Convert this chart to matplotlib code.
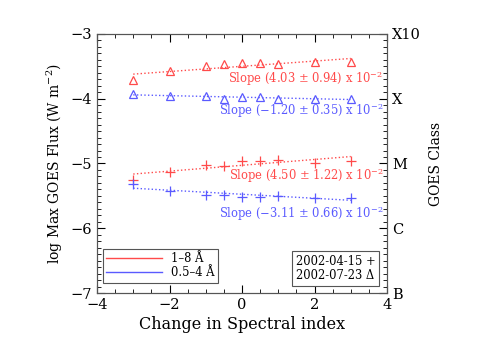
import numpy as np
import matplotlib.pyplot as plt
from matplotlib.lines import Line2D

plt.rcParams['font.family'] = ['DejaVu Serif']
plt.rcParams['mathtext.fontset'] = 'dejavuserif'

# change in spectral index
dx = [-3, -2, -1, -0.5, 0, 0.5, 1, 2, 3]

# 2002-07-23 (triangles)
tri_18 = [-3.71, -3.57, -3.50, -3.47, -3.45, -3.45, -3.46, -3.43, -3.43]
tri_054 = [-3.93, -3.96, -3.96, -4.00, -3.97, -3.97, -4.00, -4.00, -4.00]
# 2002-04-15 (plus)
plus_18 = [-5.26, -5.13, -5.02, -5.04, -4.96, -4.96, -4.94, -5.00, -4.96]
plus_054 = [-5.32, -5.42, -5.48, -5.48, -5.51, -5.51, -5.50, -5.53, -5.54]

# fits: slope, error, value at dx=0
slopes = [4.03e-2, -1.20e-2, 4.50e-2, -3.11e-2]
slope_err = [0.94e-2, 0.35e-2, 1.22e-2, 0.66e-2]
offsets = [-3.50, -3.977, -5.028, -5.475]

red = '#ff4a4a'
blue = '#5a5aff'

fig = plt.figure(figsize=(4.85, 3.46), dpi=100)
ax = fig.add_axes([0.2, 0.153, 0.598, 0.749])

series = [(tri_18, red, '^'), (tri_054, blue, '^'), (plus_18, red, '+'), (plus_054, blue, '+')]
text_y = [-3.69, -4.19, -5.19, -5.78]
xs = np.array([dx[0], dx[-1]])
for i, (vals, col, mk) in enumerate(series):
    if mk == '^':
        ax.plot(dx, vals, ls='none', marker='^', ms=5.5, mfc='none', mec=col, mew=0.9)
    else:
        ax.plot(dx, vals, ls='none', marker='+', ms=7, mec=col, mew=0.9)
    ax.plot(xs, offsets[i] + slopes[i] * xs, ls=':', color=col, lw=1)
    s = ('%.2f' % (slopes[i] * 100)).replace('-', '\u2212')
    ax.text(3.9, text_y[i],
            'Slope (%s $\\pm$ %.2f) x 10$^{\u22122}$' % (s, slope_err[i] * 100),
            color=col, fontsize=8.3, ha='right', va='center')

ax.set_xlim(-4, 4)
ax.set_ylim(-7, -3)
ax.set_xticks([-4, -2, 0, 2, 4])
ax.set_xticks(np.arange(-4, 4.01, 0.5), minor=True)
ax.set_yticks([-7, -6, -5, -4, -3])
ax.set_yticks(np.arange(-7, -2.99, 0.1), minor=True)
ax.set_xticklabels(['\u22124', '\u22122', '0', '2', '4'])
ax.set_yticklabels(['\u22127', '\u22126', '\u22125', '\u22124', '\u22123'])
ax.tick_params(direction='in', which='both', labelsize=10.5, top=True)
ax.tick_params(which='major', length=6)
ax.tick_params(which='minor', length=3)
ax.set_xlabel('Change in Spectral index', fontsize=11.5, labelpad=3)
ax.set_ylabel('log Max GOES Flux (W m$^{\u22122}$)', fontsize=10)

ax2 = ax.twinx()
ax2.set_ylim(-7, -3)
ax2.set_yticks([-7, -6, -5, -4, -3])
ax2.set_yticklabels(['B', 'C', 'M', 'X', 'X10'])
ax2.set_yticks(np.arange(-7, -2.99, 0.1), minor=True)
ax2.tick_params(direction='in', which='both', labelsize=10.5)
ax2.tick_params(which='major', length=6)
ax2.tick_params(which='minor', length=3)
ax2.set_ylabel('GOES Class', fontsize=10, labelpad=6)

for a in (ax, ax2):
    for s in a.spines.values():
        s.set_color('#555555')

handles = [Line2D([], [], color=red, lw=1), Line2D([], [], color=blue, lw=1)]
leg = ax.legend(handles, ['1\u20138 \u00c5', '0.5\u20134 \u00c5'], loc='lower left',
                fontsize=8.3, fancybox=False, edgecolor='#555555', framealpha=1,
                bbox_to_anchor=(0.02, 0.04), borderaxespad=0, handlelength=4.8,
                borderpad=0.3, labelspacing=0.1)
leg.get_frame().set_linewidth(0.8)

ax.text(3.68, -6.62, '2002-04-15 +\n2002-07-23 \u0394', fontsize=8.3, ha='right', va='center',
        multialignment='left', linespacing=1.15,
        bbox=dict(boxstyle='square,pad=0.35', fc='white', ec='#555555', lw=0.8))

fig.savefig('out.png', dpi=100)
